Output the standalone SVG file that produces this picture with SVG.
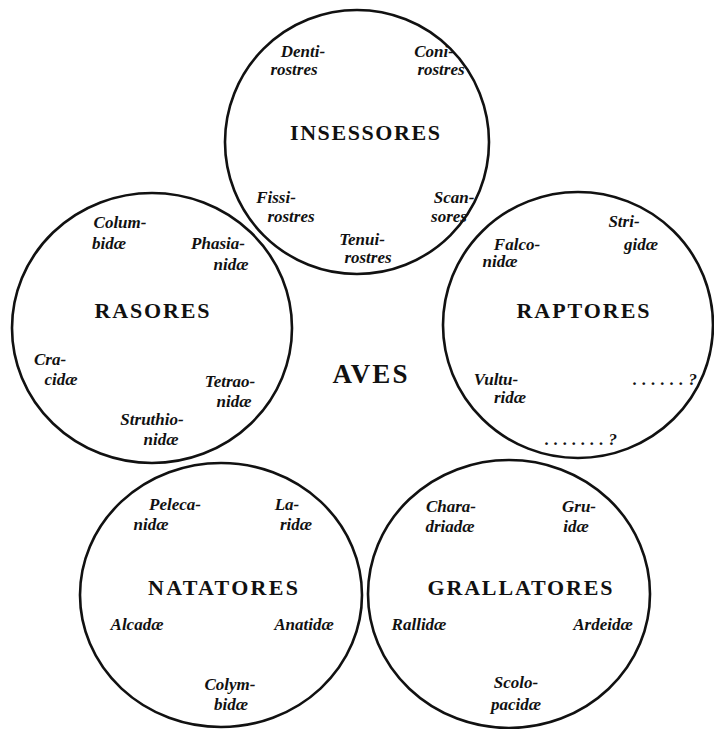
<svg xmlns="http://www.w3.org/2000/svg" width="714" height="729" viewBox="0 0 714 729">
<style>
  .ring { fill: none; stroke: #111; stroke-width: 2.6; }
  .t { font-family: "Liberation Serif", "DejaVu Serif", serif; font-style: italic; font-weight: bold; font-size: 17px; fill: #111; text-anchor: middle; }
  .h { font-family: "Liberation Serif", "DejaVu Serif", serif; font-weight: bold; font-size: 22px; fill: #111; text-anchor: middle; }
  .a { font-family: "Liberation Serif", "DejaVu Serif", serif; font-weight: bold; font-size: 27px; fill: #111; text-anchor: middle; }
</style>
<rect width="714" height="729" fill="#fff"/>
<g id="connectors"/>
<g id="insessores">
  <ellipse class="ring" cx="357" cy="142" rx="132" ry="132"/>
  <text class="t" x="303" y="57">Denti-</text>
  <text class="t" x="294" y="75">rostres</text>
  <text class="t" x="434" y="57">Coni-</text>
  <text class="t" x="441" y="75">rostres</text>
  <text class="h" x="365" y="140" textLength="150" lengthAdjust="spacing">INSESSORES</text>
  <text class="t" x="276" y="203">Fissi-</text>
  <text class="t" x="291" y="222">rostres</text>
  <text class="t" x="454" y="203">Scan-</text>
  <text class="t" x="449" y="222">sores</text>
  <text class="t" x="362" y="245">Tenui-</text>
  <text class="t" x="368" y="263">rostres</text>
</g>
<g id="rasores">
  <ellipse class="ring" cx="152" cy="328" rx="140" ry="135"/>
  <text class="t" x="120" y="228">Colum-</text>
  <text class="t" x="109" y="249">bidæ</text>
  <text class="t" x="218" y="249">Phasia-</text>
  <text class="t" x="231" y="270">nidæ</text>
  <text class="h" x="152" y="318" textLength="115" lengthAdjust="spacing">RASORES</text>
  <text class="t" x="50" y="365">Cra-</text>
  <text class="t" x="61" y="385">cidæ</text>
  <text class="t" x="230" y="387">Tetrao-</text>
  <text class="t" x="234" y="407">nidæ</text>
  <text class="t" x="152" y="425">Struthio-</text>
  <text class="t" x="161" y="445">nidæ</text>
</g>
<g id="raptores">
  <ellipse class="ring" cx="578" cy="325" rx="135" ry="133"/>
  <text class="t" x="624" y="227">Stri-</text>
  <text class="t" x="641" y="250">gidæ</text>
  <text class="t" x="517" y="250">Falco-</text>
  <text class="t" x="500" y="267">nidæ</text>
  <text class="h" x="583" y="318" textLength="133" lengthAdjust="spacing">RAPTORES</text>
  <text class="t" x="496" y="385">Vultu-</text>
  <text class="t" x="510" y="403">ridæ</text>
  <text class="t" x="665" y="385" textLength="64" lengthAdjust="spacing">......?</text>
  <text class="t" x="581" y="445" textLength="72" lengthAdjust="spacing">.......?</text>
</g>
<g id="natatores">
  <ellipse class="ring" cx="221" cy="595" rx="141" ry="132"/>
  <text class="t" x="175" y="510">Peleca-</text>
  <text class="t" x="151" y="530">nidæ</text>
  <text class="t" x="287" y="510">La-</text>
  <text class="t" x="296" y="530">ridæ</text>
  <text class="h" x="223" y="595" textLength="150" lengthAdjust="spacing">NATATORES</text>
  <text class="t" x="137" y="630">Alcadæ</text>
  <text class="t" x="304" y="630">Anatidæ</text>
  <text class="t" x="230" y="690">Colym-</text>
  <text class="t" x="231" y="710">bidæ</text>
</g>
<g id="grallatores">
  <ellipse class="ring" cx="509" cy="594" rx="141" ry="134"/>
  <text class="t" x="451" y="512">Chara-</text>
  <text class="t" x="450" y="532">driadæ</text>
  <text class="t" x="579" y="512">Gru-</text>
  <text class="t" x="576" y="532">idæ</text>
  <text class="h" x="520" y="595" textLength="185" lengthAdjust="spacing">GRALLATORES</text>
  <text class="t" x="419" y="630">Rallidæ</text>
  <text class="t" x="603" y="630">Ardeidæ</text>
  <text class="t" x="516" y="688">Scolo-</text>
  <text class="t" x="516" y="710">pacidæ</text>
</g>
<g id="aves">
  <text class="a" x="370" y="383" textLength="75" lengthAdjust="spacing">AVES</text>
</g>
</svg>
